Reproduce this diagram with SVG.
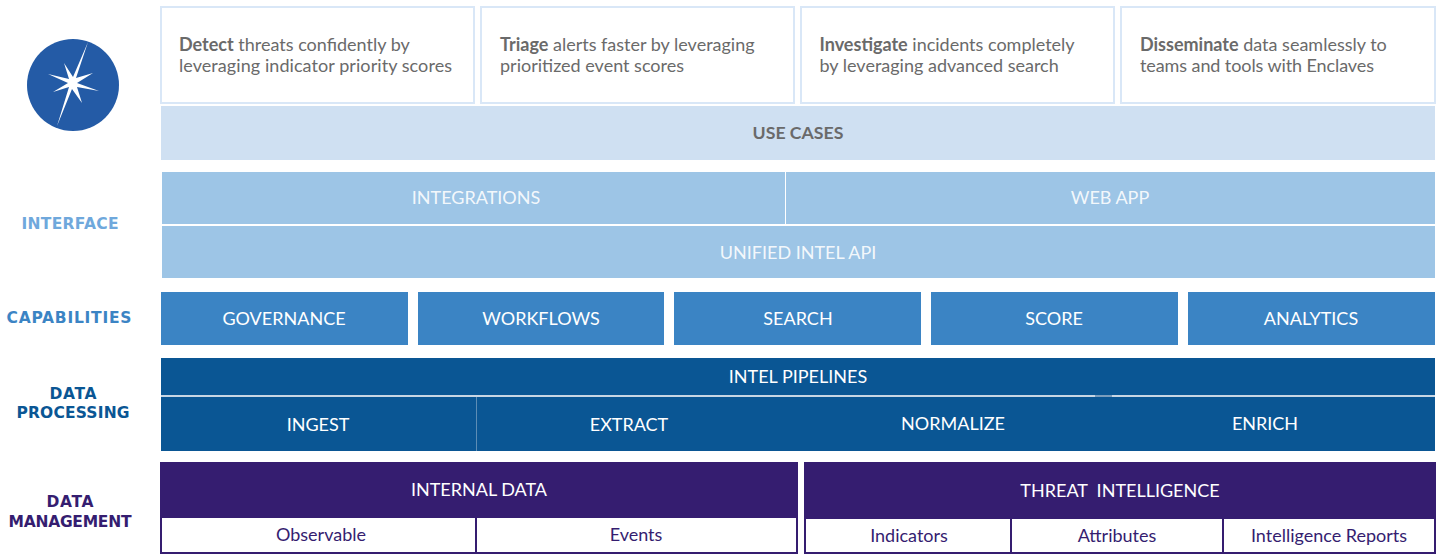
<svg xmlns="http://www.w3.org/2000/svg" width="1442" height="560" viewBox="0 0 1442 560">
<style>
text{font-family:Lato,"Liberation Sans",sans-serif}
.c{text-anchor:middle}
.card{fill:#fff;stroke:#d9e7f7;stroke-width:2}
.ct{font-size:18px;fill:#6a6a6a}
.ct tspan.b{font-weight:700}
.w{fill:#fff;font-size:18px}
.lt{fill:#fff;font-size:18px;fill-opacity:.9}
.side{font-family:"DejaVu Sans",Verdana,sans-serif;font-weight:700;font-size:15.5px;text-anchor:middle}
.a{fill:#9dc5e6}.b2{fill:#3b84c4}.d{fill:#0a5694}.p{fill:#351d70}
.cell{fill:#fff;stroke:#351d70;stroke-width:2}
.pt{fill:#351d70;font-size:18px;text-anchor:middle}
</style>
<rect width="1442" height="560" fill="#fff"/>
<g id="logo">
<circle cx="73" cy="85" r="46" fill="#245ba6"/>
<path d="M88 42 L76 78 L93 73 L77 83 L99 91 L77 87 L82 103 L72 89 L57 126 L69 87 L53 92 L68 83 L48 74 L69 79 L64 63 L73 77 Z" fill="#fff"/>
</g>
<g id="card-detect"><rect class="card" x="161" y="7" width="313" height="96"/><text class="ct" x="179" y="51"><tspan class="b">Detect</tspan> threats confidently by</text><text class="ct" x="179" y="72" textLength="273">leveraging indicator priority scores</text></g>
<g id="card-triage"><rect class="card" x="481" y="7" width="313" height="96"/><text class="ct" x="500" y="51"><tspan class="b">Triage</tspan> alerts faster by leveraging</text><text class="ct" x="500" y="72">prioritized event scores</text></g>
<g id="card-investigate"><rect class="card" x="801" y="7" width="313" height="96"/><text class="ct" x="819.500" y="51"><tspan class="b">Investigate</tspan> incidents completely</text><text class="ct" x="819.500" y="72">by leveraging advanced search</text></g>
<g id="card-disseminate"><rect class="card" x="1121" y="7" width="314" height="96"/><text class="ct" x="1140" y="51"><tspan class="b">Disseminate</tspan> data seamlessly to</text><text class="ct" x="1140" y="72" textLength="234">teams and tools with Enclaves</text></g>
<g id="use-cases"><rect x="161" y="106" width="1274" height="54" fill="#cfe0f2"/><text class="c" x="798" y="139" font-size="17.700" font-weight="700" fill="#6a6a6a">USE CASES</text></g>
<g id="label-interface"><text class="side" x="70" y="229" fill="#6fa8dc" textLength="97">INTERFACE</text></g>
<g id="integrations"><rect class="a" x="162" y="172" width="623" height="52"/><text class="lt c" x="476" y="204">INTEGRATIONS</text></g>
<g id="web-app"><rect class="a" x="786" y="172" width="649" height="52"/><text class="lt c" x="1110" y="204">WEB APP</text></g>
<g id="unified"><rect class="a" x="162" y="226" width="1273" height="52"/><text class="lt c" x="798" y="259">UNIFIED INTEL API</text></g>
<g id="label-capabilities"><text class="side" x="69" y="323" fill="#3b84c4" textLength="125">CAPABILITIES</text></g>
<g id="governance"><rect class="b2" x="161" y="292" width="247" height="53"/><text class="w c" x="284" y="325">GOVERNANCE</text></g>
<g id="workflows"><rect class="b2" x="418" y="292" width="246" height="53"/><text class="w c" x="541" y="325">WORKFLOWS</text></g>
<g id="search"><rect class="b2" x="674" y="292" width="247" height="53"/><text class="w c" x="798" y="325">SEARCH</text></g>
<g id="score"><rect class="b2" x="931" y="292" width="247" height="53"/><text class="w c" x="1054" y="325">SCORE</text></g>
<g id="analytics"><rect class="b2" x="1188" y="292" width="247" height="53"/><text class="w c" x="1311" y="325">ANALYTICS</text></g>
<g id="label-processing"><text class="side" x="73" y="399" fill="#0a5694" textLength="47">DATA</text><text class="side" x="73" y="418" fill="#0a5694" textLength="113">PROCESSING</text></g>
<g id="pipelines"><rect x="161" y="395" width="1274" height="2" fill="#c8d6e4"/><rect x="1095" y="395" width="17" height="2" fill="#7a9dbd"/><rect class="d" x="161" y="358" width="1274" height="37"/><text class="w c" x="798" y="383">INTEL PIPELINES</text></g>
<g id="ingest"><rect class="d" x="161" y="397" width="315" height="54"/><text class="w c" x="318" y="431">INGEST</text></g>
<g id="extract"><rect class="d" x="476" y="397" width="321" height="54"/><rect x="476" y="397" width="1" height="54" fill="#5d8db5"/><text class="w c" x="629" y="431">EXTRACT</text></g>
<g id="normalize"><rect class="d" x="797" y="397" width="318" height="54"/><text class="w c" x="953" y="430">NORMALIZE</text></g>
<g id="enrich"><rect class="d" x="1095" y="397" width="340" height="54"/><text class="w c" x="1265" y="430">ENRICH</text></g>
<g id="label-management"><text class="side" x="70" y="507" fill="#351d70" textLength="47">DATA</text><text class="side" x="70" y="527" fill="#351d70" textLength="123">MANAGEMENT</text></g>
<g id="internal"><rect class="p" x="160" y="462" width="638" height="55"/><text class="w c" x="479" y="496">INTERNAL DATA</text></g>
<g id="observable"><rect class="cell" x="161" y="517" width="315" height="36"/><text class="pt" x="321" y="541">Observable</text></g>
<g id="events"><rect class="cell" x="476" y="517" width="321" height="36"/><text class="pt" x="636" y="541">Events</text></g>
<g id="threat"><rect class="p" x="804" y="462" width="632" height="56"/><text class="w c" x="1120" y="497" xml:space="preserve">THREAT  INTELLIGENCE</text></g>
<g id="indicators"><rect class="cell" x="805" y="518" width="206" height="35"/><text class="pt" x="909" y="542">Indicators</text></g>
<g id="attributes"><rect class="cell" x="1011" y="518" width="212" height="35"/><text class="pt" x="1117" y="542">Attributes</text></g>
<g id="reports"><rect class="cell" x="1223" y="518" width="212" height="35"/><text class="pt" x="1329" y="542">Intelligence Reports</text></g>
<g id="connectors"></g>
</svg>
